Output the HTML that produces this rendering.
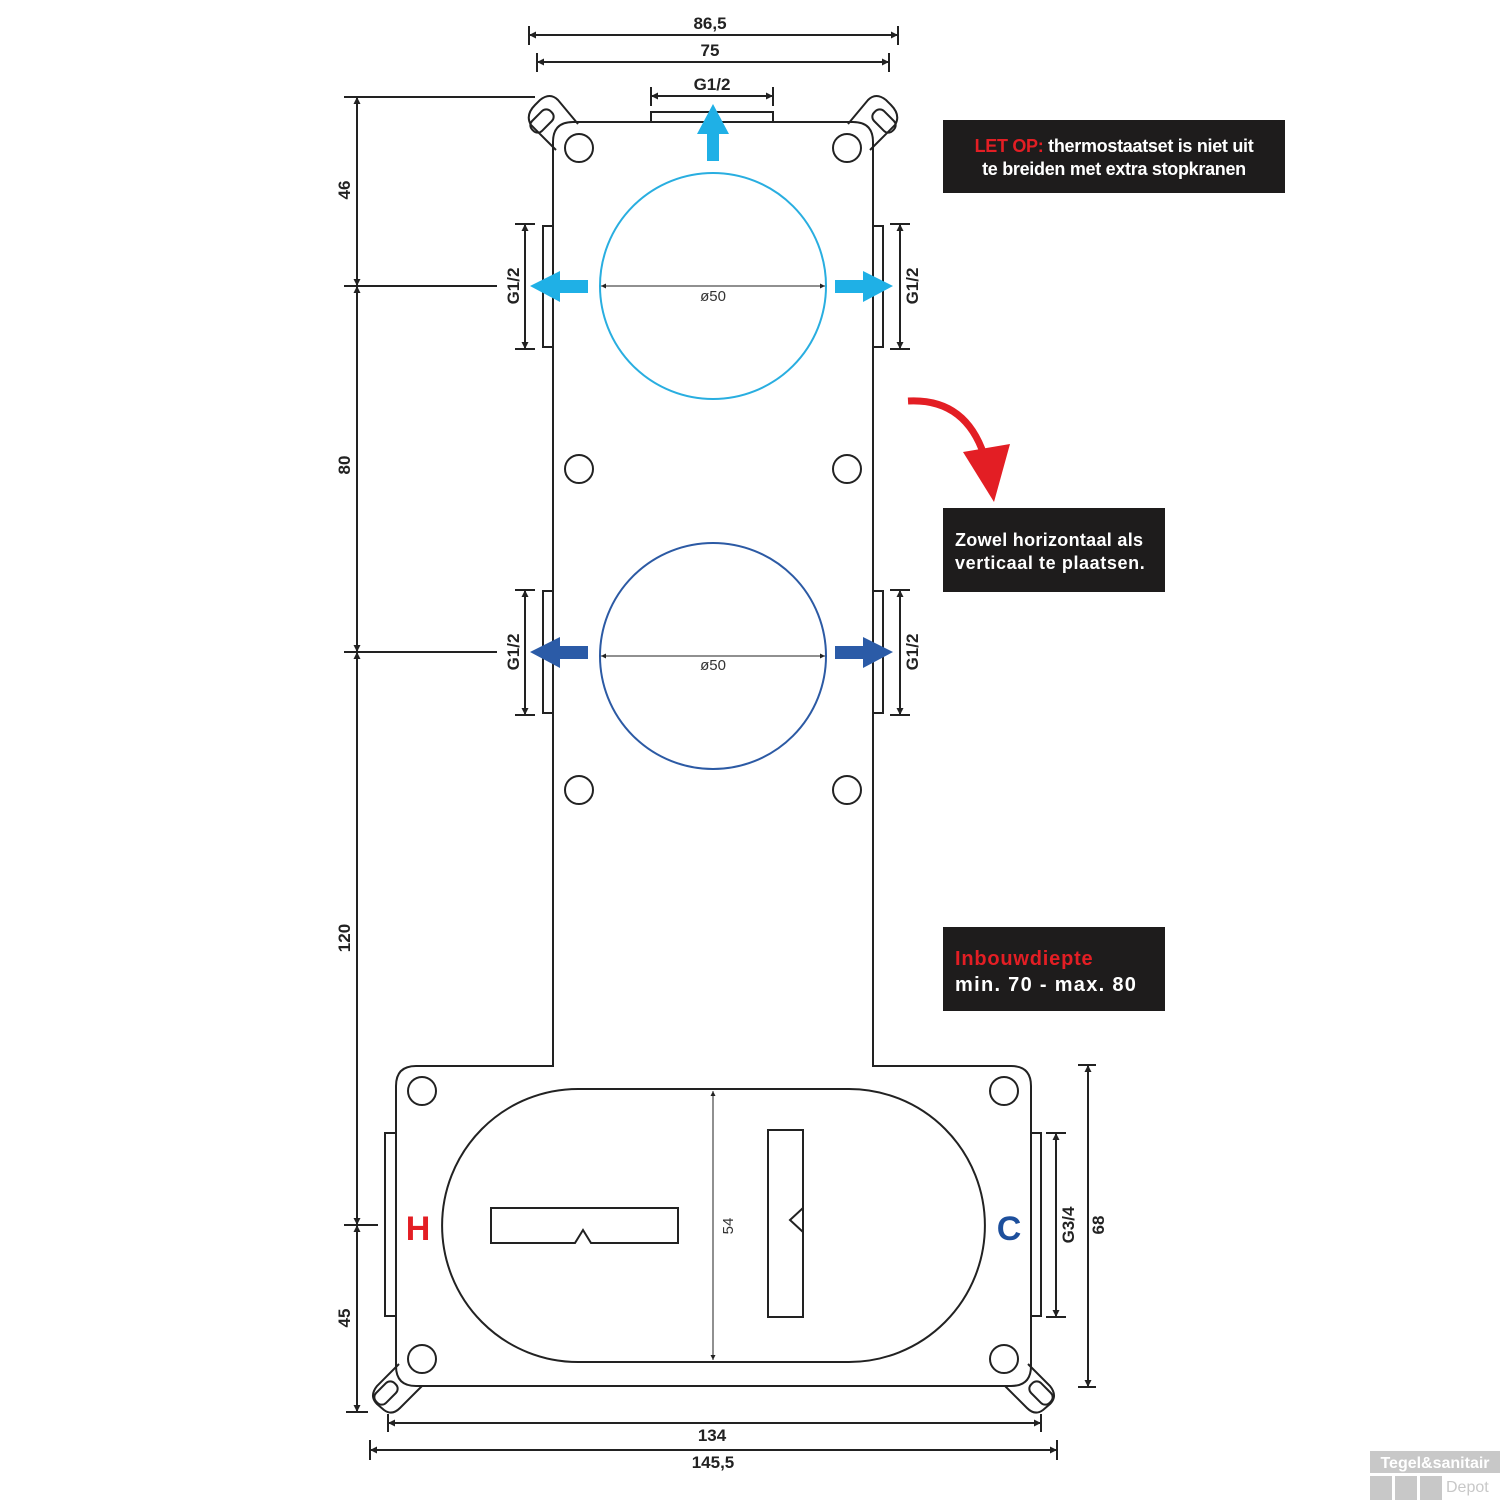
<!DOCTYPE html>
<html><head><meta charset="utf-8"><style>
html,body{margin:0;padding:0;background:#fff;}
svg{display:block;font-family:"Liberation Sans",sans-serif;}
.t{font-weight:bold;fill:#222;font-size:17px;}
</style></head><body>
<svg width="1500" height="1500" viewBox="0 0 1500 1500" xmlns="http://www.w3.org/2000/svg">
<defs>
<marker id="a" viewBox="0 0 10 10" refX="10" refY="5" markerWidth="15" markerHeight="7" orient="auto-start-reverse" markerUnits="userSpaceOnUse"><path d="M0,0L10,5L0,10z" fill="#222"/></marker>
<marker id="s" viewBox="0 0 10 10" refX="10" refY="5" markerWidth="10" markerHeight="5" orient="auto-start-reverse" markerUnits="userSpaceOnUse"><path d="M0,0L10,5L0,10z" fill="#222"/></marker>
</defs>
<g fill="none" stroke="#222" stroke-width="2">
<path d="M573,122 H853 Q873,122 873,142 V1066 H1011 Q1031,1066 1031,1086 V1366 Q1031,1386 1011,1386 H416 Q396,1386 396,1366 V1086 Q396,1066 416,1066 H553 V142 Q553,122 573,122 Z"/>
<path d="M556,150 L531,125 Q525,115 535,105 L540,100 Q550,92 558,100 L578,124"/>
<rect x="535" y="108" width="14" height="26" rx="6" transform="rotate(45 542 121)"/>
<path d="M870,150 L895,125 Q901,115 891,105 L886,100 Q876,92 868,100 L848,124"/>
<rect x="877" y="108" width="14" height="26" rx="6" transform="rotate(-45 884 121)"/>
<path d="M399,1364 L377,1386 Q369,1396 377,1404 L384,1410 Q392,1416 400,1408 L422,1386"/>
<rect x="379" y="1380" width="14" height="26" rx="6" transform="rotate(45 386 1393)"/>
<path d="M1028,1364 L1050,1386 Q1058,1396 1050,1404 L1043,1410 Q1035,1416 1027,1408 L1005,1386"/>
<rect x="1034" y="1380" width="14" height="26" rx="6" transform="rotate(-45 1041 1393)"/>
<circle cx="579" cy="148" r="14"/><circle cx="847" cy="148" r="14"/>
<circle cx="579" cy="469" r="14"/><circle cx="847" cy="469" r="14"/>
<circle cx="579" cy="790" r="14"/><circle cx="847" cy="790" r="14"/>
<circle cx="422" cy="1091" r="14"/><circle cx="1004" cy="1091" r="14"/>
<circle cx="422" cy="1359" r="14"/><circle cx="1004" cy="1359" r="14"/>
<rect x="543" y="226" width="10" height="121"/><rect x="873" y="226" width="10" height="121"/>
<rect x="543" y="591" width="10" height="122"/><rect x="873" y="591" width="10" height="122"/>
<rect x="651" y="112" width="122" height="10"/>
<rect x="385" y="1133" width="11" height="183"/><rect x="1031" y="1133" width="10" height="183"/>
<path d="M578,1089 H849 A136,136.5 0 0 1 849,1362 H578 A136,136.5 0 0 1 578,1089 Z"/>
<path d="M491,1208 H678 V1243 H591 L583,1230 L575,1243 H491 Z"/>
<path d="M768,1130 H803 V1317 H768 Z M803,1208 L790,1220 L803,1232"/>
</g>
<circle cx="713" cy="286" r="113" fill="none" stroke="#29aee0" stroke-width="2"/>
<circle cx="713" cy="656" r="113" fill="none" stroke="#2c5aa4" stroke-width="2"/>
<g stroke="#222" stroke-width="1" fill="none">
<line x1="601" y1="286" x2="825" y2="286" marker-start="url(#s)" marker-end="url(#s)"/>
<line x1="601" y1="656" x2="825" y2="656" marker-start="url(#s)" marker-end="url(#s)"/>
<line x1="713" y1="1091" x2="713" y2="1360" marker-start="url(#s)" marker-end="url(#s)"/>
</g>
<text x="713" y="301" font-size="15" text-anchor="middle" fill="#333">ø50</text>
<text x="713" y="670" font-size="15" text-anchor="middle" fill="#333">ø50</text>
<text transform="translate(733,1226) rotate(-90)" font-size="15" text-anchor="middle" fill="#333">54</text>
<g fill="#1fb0e6">
<path d="M707,161 V134 H697 L713,104 L729,134 H719 V161 Z"/>
<path d="M588,280 H560 V271 L530,286 L560,302 V293 H588 Z"/>
<path d="M835,280 H863 V271 L893,286 L863,302 V293 H835 Z"/>
</g>
<g fill="#2b5ba7">
<path d="M588,646 H560 V637 L530,652 L560,668 V659 H588 Z"/>
<path d="M835,646 H863 V637 L893,652 L863,668 V659 H835 Z"/>
</g>
<g stroke="#222" stroke-width="2" fill="none">
<line x1="529" y1="35" x2="898" y2="35" marker-start="url(#a)" marker-end="url(#a)"/>
<line x1="529" y1="26" x2="529" y2="45"/><line x1="898" y1="26" x2="898" y2="45"/>
<line x1="537" y1="62" x2="889" y2="62" marker-start="url(#a)" marker-end="url(#a)"/>
<line x1="537" y1="53" x2="537" y2="72"/><line x1="889" y1="53" x2="889" y2="72"/>
<line x1="651" y1="96" x2="773" y2="96" marker-start="url(#a)" marker-end="url(#a)"/>
<line x1="651" y1="87" x2="651" y2="106"/><line x1="773" y1="87" x2="773" y2="106"/>
<line x1="357" y1="97" x2="357" y2="286" marker-start="url(#a)" marker-end="url(#a)"/>
<line x1="357" y1="286" x2="357" y2="652" marker-start="url(#a)" marker-end="url(#a)"/>
<line x1="357" y1="652" x2="357" y2="1225" marker-start="url(#a)" marker-end="url(#a)"/>
<line x1="357" y1="1225" x2="357" y2="1412" marker-start="url(#a)" marker-end="url(#a)"/>
<line x1="344" y1="97" x2="535" y2="97"/>
<line x1="344" y1="286" x2="497" y2="286"/>
<line x1="344" y1="652" x2="497" y2="652"/>
<line x1="344" y1="1225" x2="378" y2="1225"/>
<line x1="346" y1="1412" x2="368" y2="1412"/>
<line x1="525" y1="224" x2="525" y2="349" marker-start="url(#a)" marker-end="url(#a)"/>
<line x1="515" y1="224" x2="535" y2="224"/><line x1="515" y1="349" x2="535" y2="349"/>
<line x1="900" y1="224" x2="900" y2="349" marker-start="url(#a)" marker-end="url(#a)"/>
<line x1="890" y1="224" x2="910" y2="224"/><line x1="890" y1="349" x2="910" y2="349"/>
<line x1="525" y1="590" x2="525" y2="715" marker-start="url(#a)" marker-end="url(#a)"/>
<line x1="515" y1="590" x2="535" y2="590"/><line x1="515" y1="715" x2="535" y2="715"/>
<line x1="900" y1="590" x2="900" y2="715" marker-start="url(#a)" marker-end="url(#a)"/>
<line x1="890" y1="590" x2="910" y2="590"/><line x1="890" y1="715" x2="910" y2="715"/>
<line x1="388" y1="1423" x2="1041" y2="1423" marker-start="url(#a)" marker-end="url(#a)"/>
<line x1="388" y1="1414" x2="388" y2="1432"/><line x1="1041" y1="1414" x2="1041" y2="1432"/>
<line x1="370" y1="1450" x2="1057" y2="1450" marker-start="url(#a)" marker-end="url(#a)"/>
<line x1="370" y1="1440" x2="370" y2="1460"/><line x1="1057" y1="1440" x2="1057" y2="1460"/>
<line x1="1056" y1="1133" x2="1056" y2="1317" marker-start="url(#a)" marker-end="url(#a)"/>
<line x1="1046" y1="1133" x2="1066" y2="1133"/><line x1="1046" y1="1317" x2="1066" y2="1317"/>
<line x1="1088" y1="1065" x2="1088" y2="1387" marker-start="url(#a)" marker-end="url(#a)"/>
<line x1="1078" y1="1065" x2="1096" y2="1065"/><line x1="1078" y1="1387" x2="1096" y2="1387"/>
</g>
<text class="t" x="710" y="29" text-anchor="middle">86,5</text>
<text class="t" x="710" y="56" text-anchor="middle">75</text>
<text class="t" x="712" y="90" text-anchor="middle">G1/2</text>
<text class="t" x="712" y="1441" text-anchor="middle">134</text>
<text class="t" x="713" y="1468" text-anchor="middle">145,5</text>
<text class="t" transform="translate(350,190) rotate(-90)" text-anchor="middle">46</text>
<text class="t" transform="translate(350,465) rotate(-90)" text-anchor="middle">80</text>
<text class="t" transform="translate(350,938) rotate(-90)" text-anchor="middle">120</text>
<text class="t" transform="translate(350,1318) rotate(-90)" text-anchor="middle">45</text>
<text class="t" transform="translate(519,286) rotate(-90)" text-anchor="middle">G1/2</text>
<text class="t" transform="translate(918,286) rotate(-90)" text-anchor="middle">G1/2</text>
<text class="t" transform="translate(519,652) rotate(-90)" text-anchor="middle">G1/2</text>
<text class="t" transform="translate(918,652) rotate(-90)" text-anchor="middle">G1/2</text>
<text class="t" transform="translate(1074,1225) rotate(-90)" text-anchor="middle">G3/4</text>
<text class="t" transform="translate(1104,1225) rotate(-90)" text-anchor="middle">68</text>
<text x="418" y="1240" font-size="34" font-weight="bold" fill="#e31e24" text-anchor="middle">H</text>
<text x="1009" y="1240" font-size="34" font-weight="bold" fill="#1d4f9c" text-anchor="middle">C</text>
<path d="M908,401 Q965,398 984,455" fill="none" stroke="#e31e24" stroke-width="7"/>
<path d="M963,452 L1010,444 L994,502 Z" fill="#e31e24"/>
<rect x="943" y="120" width="342" height="73" fill="#1e1c1c"/>
<text x="1114" y="152" font-size="18" font-weight="bold" fill="#fff" text-anchor="middle" letter-spacing="-0.3"><tspan fill="#e31e24">LET OP:</tspan> thermostaatset is niet uit</text>
<text x="1114" y="175" font-size="18" font-weight="bold" fill="#fff" text-anchor="middle" letter-spacing="-0.3">te breiden met extra stopkranen</text>
<rect x="943" y="508" width="222" height="84" fill="#1e1c1c"/>
<text x="955" y="546" font-size="18" font-weight="bold" fill="#fff" letter-spacing="0.3">Zowel horizontaal als</text>
<text x="955" y="569" font-size="18" font-weight="bold" fill="#fff" letter-spacing="0.6">verticaal te plaatsen.</text>
<rect x="943" y="927" width="222" height="84" fill="#1e1c1c"/>
<text x="955" y="965" font-size="20" font-weight="bold" fill="#e31e24" letter-spacing="0.8">Inbouwdiepte</text>
<text x="955" y="991" font-size="20" font-weight="bold" fill="#fff" letter-spacing="1.3">min. 70 - max. 80</text>
<rect x="1370" y="1451" width="130" height="22" fill="#c8c8c8"/>
<text x="1435" y="1468" font-size="16" font-weight="bold" fill="#fff" text-anchor="middle">Tegel&amp;sanitair</text>
<rect x="1370" y="1476" width="22" height="24" fill="#c8c8c8"/>
<rect x="1395" y="1476" width="22" height="24" fill="#c8c8c8"/>
<rect x="1420" y="1476" width="22" height="24" fill="#c8c8c8"/>
<text x="1446" y="1492" font-size="16" fill="#c8c8c8">Depot</text>
</svg>
</body></html>
